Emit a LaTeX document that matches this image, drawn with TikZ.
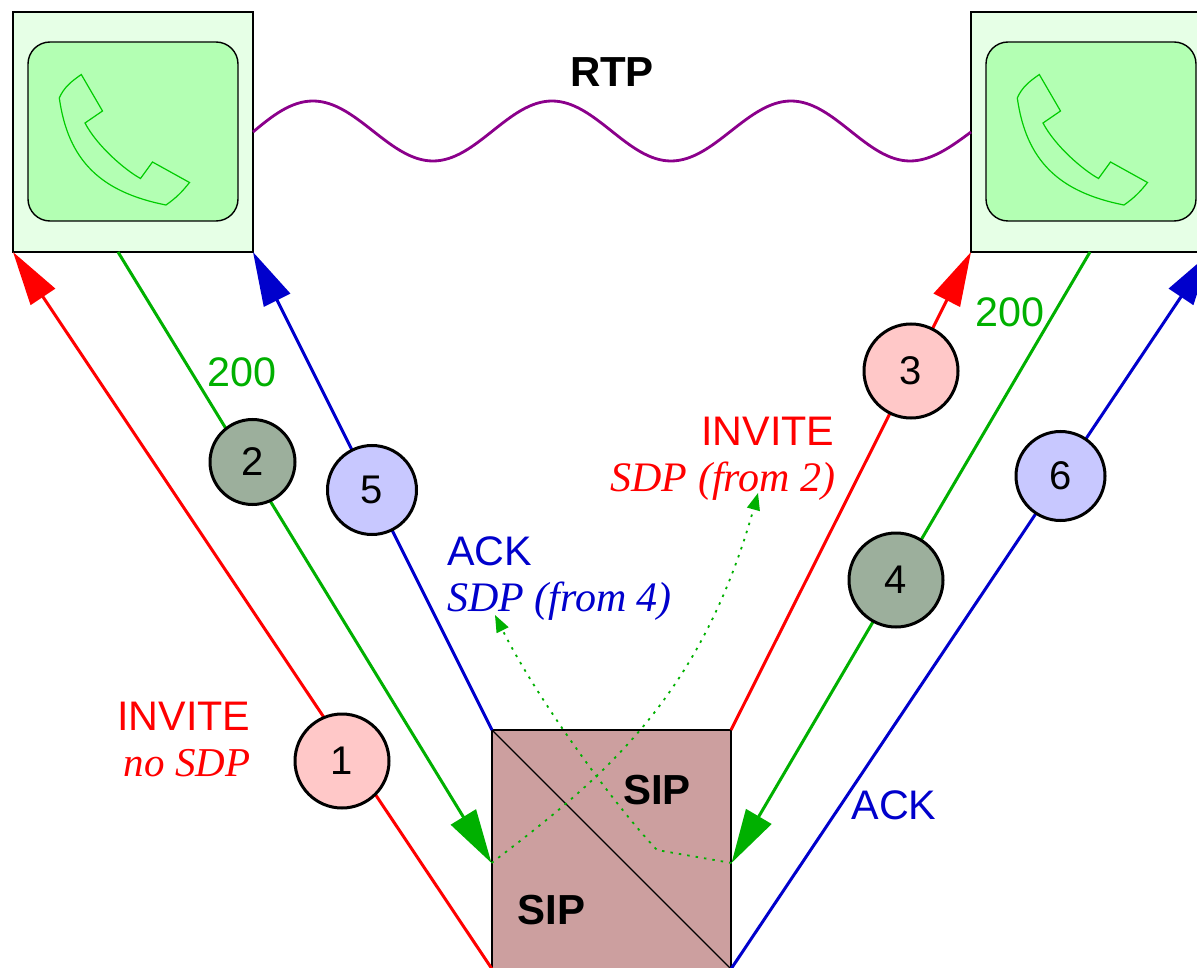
\documentclass[tikz,border=0pt]{standalone}
\usepackage{fontspec}
\setmainfont{Liberation Sans}
\newfontfamily\timesit{Liberation Serif}[ItalicFont=* Italic]
\usetikzlibrary{arrows.meta}
\definecolor{cgreen}{HTML}{00B000}
\definecolor{cblue}{HTML}{0000CC}
\definecolor{cpurple}{HTML}{8B008B}
\definecolor{boxfill}{HTML}{E6FFE6}
\definecolor{innerfill}{HTML}{B3FFB3}
\definecolor{phoneline}{HTML}{00CC00}
\definecolor{sipfill}{HTML}{CC9F9F}
\definecolor{pinkc}{HTML}{FFC8C8}
\definecolor{bluec}{HTML}{C8C8FF}
\definecolor{greenc}{HTML}{9CAF9C}
\tikzset{
  outerbox/.style={draw=black,line width=1.4pt,fill=boxfill,minimum size=240pt,inner sep=0pt,outer sep=0pt},
  innerbox/.style={draw=black,line width=1.4pt,fill=innerfill,minimum width=210pt,minimum height=179pt,rounded corners=22pt,inner sep=0pt,outer sep=0pt},
  phoneshape/.style={draw=phoneline,line width=1.2pt,line join=miter},
  sipbox/.style={draw=black,line width=1.4pt,fill=sipfill,minimum size=239pt,inner sep=0pt,outer sep=0pt},
  msg/.style={line width=3pt,-{Triangle[length=54pt,width=29pt]}},
  num/.style={circle,draw=black,line width=3pt,inner sep=0pt,font=\fontsize{40}{44}\selectfont},
  lab/.style={inner sep=0pt,font=\fontsize{41.3}{45}\selectfont},
  labit/.style={inner sep=0pt,font=\timesit\itshape\fontsize{42}{45}\selectfont},
  boldlab/.style={inner sep=0pt,font=\bfseries\fontsize{42}{45}\selectfont},
  hint/.style={draw=cgreen,line width=1.8pt,dash pattern=on 2.5pt off 6pt,-{Triangle[length=17pt,width=13pt]}}
}
\newcommand{\handset}{%
  \draw[phoneshape] (59.3,98) .. controls (64,87) and (72,81) .. (81.3,74.5)
    -- (102.5,111) -- (85,123) .. controls (97,146) and (125,170) .. (140.5,178.5)
    -- (152.5,162) -- (189.5,182.5) .. controls (182,192) and (176,198) .. (166,205)
    .. controls (100,192) and (68,160) .. cycle;}
\begin{document}
\begin{tikzpicture}[x=1pt,y=-1pt]
\clip (0,0) rectangle (1197,968);
\fill[white] (0,0) rectangle (1197,968);
\node[outerbox] (L) at (133,132) {};
\node[outerbox] (R) at (1091,132) {};
\node[innerbox] (LI) at (133,131.5) {};
\node[innerbox] (RI) at (1091,131.5) {};
\handset
\begin{scope}[xshift=958pt]\handset\end{scope}
\node[sipbox] (S) at (611.5,849.5) {};
\draw[black,line width=1.4pt] (S.north west) -- (S.south east);
\coordinate (SL) at (491.5,863);
\coordinate (SR) at (731.5,863);
\coordinate (L2) at (118,252);
\coordinate (R4) at (1090,252);
% wave
\draw[cpurple,line width=2.8pt] (L.east) .. controls (272,116) and (291,101) .. (313,101)
  .. controls (356.5,101) and (389.5,161) .. (433,161)
  .. controls (476.5,161) and (508.5,101) .. (552,101)
  .. controls (595.5,101) and (627.5,161) .. (671,161)
  .. controls (714.5,161) and (747.5,101) .. (791,101)
  .. controls (834.5,101) and (866.5,161) .. (910,161)
  .. controls (932,161) and (952,146) .. (R.west);
% messages
\draw[msg,red] (S.south west) -- (L.south west);
\draw[msg,cgreen] (L2) -- (SL);
\draw[msg,cblue] (S.north west) -- (L.south east);
\draw[msg,red] (S.north east) -- (R.south west);
\draw[msg,cgreen] (R4) -- (SR);
\draw[msg,cblue] (S.south east) -- (R.south east);
% circles
\node[num,fill=pinkc,minimum size=94pt] (n1) at (342,761) {1};
\node[num,fill=greenc,minimum size=85pt] (n2) at (252.5,462) {2};
\node[num,fill=pinkc,minimum size=94pt] (n3) at (911,371) {3};
\node[num,fill=greenc,minimum size=94pt] (n4) at (896,580) {4};
\node[num,fill=bluec,minimum size=89pt] (n5) at (372,490) {5};
\node[num,fill=bluec,minimum size=89pt] (n6) at (1060.5,476) {6};
% dotted hints
\coordinate (h1) at (758,493);
\coordinate (h2) at (495,615);
\draw[hint] (SL) .. controls (600,780) and (700,700) .. (h1);
\draw[hint] (SR) -- (657,850) .. controls (610,800) and (535,695) .. (h2);
% labels
\node[boldlab] (rtp) at (612,72) {RTP};
\node[boldlab] (sip1) at (657,790) {SIP};
\node[boldlab] (sip2) at (551.5,910) {SIP};
\node[lab,text=red,anchor=base east] (t1) at (250.5,730) {INVITE};
\node[labit,text=red,anchor=base east,font=\timesit\itshape\fontsize{41}{45}\selectfont] (t2) at (250.5,776) {no SDP};
\node[lab,text=cgreen] (t3) at (242,372) {200};
\node[lab,text=cgreen] (t4) at (1010,312) {200};
\node[lab,text=red,anchor=base east] (t5) at (834.5,445) {INVITE};
\node[labit,text=red,anchor=base east] (t6) at (835.5,491) {SDP (from 2)};
\node[lab,text=cblue,anchor=base west] (t7) at (447,565) {ACK};
\node[labit,text=cblue,anchor=base west] (t8) at (447,611) {SDP (from 4)};
\node[lab,text=cblue] (t9) at (894,805) {ACK};
\end{tikzpicture}
\end{document}
